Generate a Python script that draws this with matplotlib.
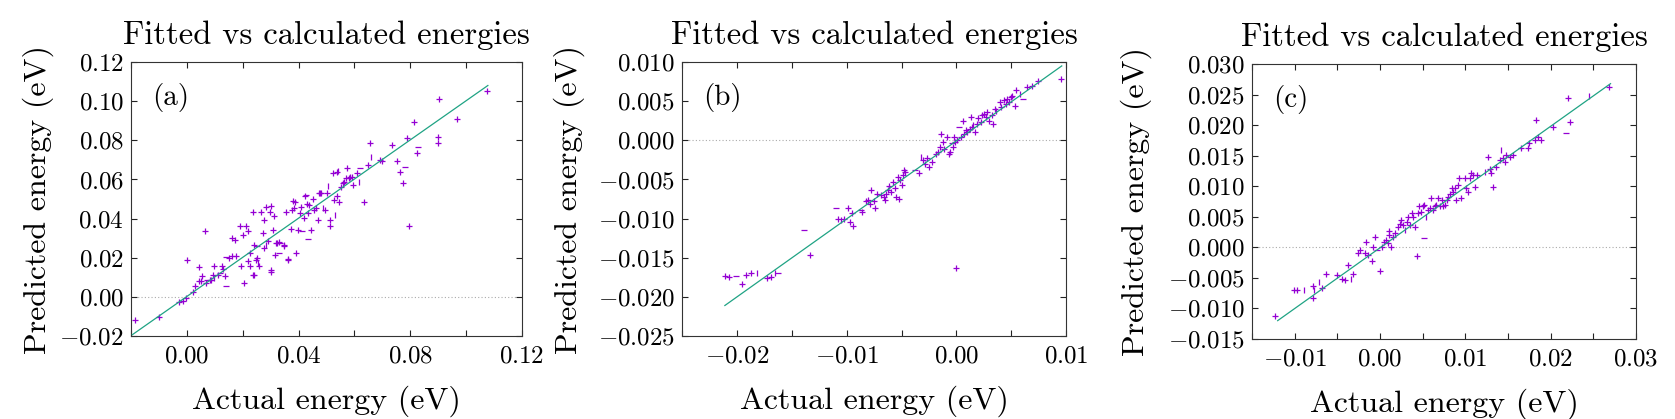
import matplotlib
matplotlib.use('Agg')
import matplotlib.pyplot as plt
from matplotlib.ticker import FixedLocator, FuncFormatter

plt.rcParams['font.family'] = 'cmr10'
plt.rcParams['mathtext.fontset'] = 'cm'
plt.rcParams['axes.unicode_minus'] = True

# ---- panel (a) ----
xs_a = [-0.0187, -0.0101, -0.0028, -0.0015, -0.0003, 0.0000, 0.0023, 0.0042, 0.0045, 0.0052,
        0.0055, 0.0064, 0.0068, 0.0074, 0.0087, 0.0099, 0.0112, 0.0097, 0.0118, 0.0131,
        0.0140, 0.0138, 0.0150, 0.0161, 0.0163, 0.0173, 0.0191, 0.0195, 0.0206, 0.0201,
        0.0218, 0.0220, 0.0227, 0.0236, 0.0239, 0.0242, 0.0246, 0.0252, 0.0255, 0.0259,
        0.0271, 0.0275, 0.0278, 0.0284, 0.0290, 0.0297, 0.0301, 0.0303, 0.0310, 0.0313,
        0.0316, 0.0322, 0.0329, 0.0331, 0.0349, 0.0354, 0.0364, 0.0373, 0.0377, 0.0382,
        0.0386, 0.0392, 0.0399, 0.0405, 0.0411, 0.0418, 0.0424, 0.0431, 0.0433, 0.0437,
        0.0443, 0.0433, 0.0456, 0.0462, 0.0469, 0.0475, 0.0482, 0.0488, 0.0494, 0.0501,
        0.0513, 0.0513, 0.0526, 0.0532, 0.0539, 0.0545, 0.0538, 0.0552, 0.0558, 0.0564,
        0.0571, 0.0581, 0.0590, 0.0596, 0.0609, 0.0615, 0.0634, 0.0647, 0.0660, 0.0656,
        0.0698, 0.0736, 0.0753, 0.0762, 0.0775, 0.0781, 0.0787, 0.0794, 0.0815, 0.0828,
        0.0823, 0.0899, 0.0899, 0.0902, 0.0969, 0.1076, 0.0029, 0.0093, 0.0125, 0.0176,
        0.0213, 0.0267, 0.0285, 0.0320, 0.0332, 0.0349, 0.0362, 0.0380, 0.0410, 0.0428,
        0.0452, 0.0476, 0.0506, 0.0524, 0.0542, 0.0572, 0.0584, 0.0619, 0.0690, 0.0142,
        0.0226, 0.0250, 0.0082, 0.0238, 0.0303]
ys_a = [-0.0119, -0.0102, -0.0027, -0.0022, -0.0008, 0.0190, 0.0024, 0.0080, 0.0153, 0.0080,
        0.0105, 0.0339, 0.0071, 0.0088, 0.0088, 0.0097, 0.0112, 0.0160, 0.0122, 0.0143,
        0.0058, 0.0105, 0.0199, 0.0207, 0.0300, 0.0292, 0.0360, 0.0156, 0.0071, 0.0317,
        0.0338, 0.0182, 0.0156, 0.0434, 0.0114, 0.0266, 0.0190, 0.0199, 0.0173, 0.0156,
        0.0326, 0.0394, 0.0249, 0.0266, 0.0283, 0.0434, 0.0462, 0.0126, 0.0343, 0.0414,
        0.0216, 0.0275, 0.0224, 0.0278, 0.0258, 0.0436, 0.0193, 0.0346, 0.0445, 0.0453,
        0.0487, 0.0224, 0.0343, 0.0428, 0.0339, 0.0402, 0.0513, 0.0475, 0.0428, 0.0470,
        0.0343, 0.0297, 0.0445, 0.0453, 0.0394, 0.0530, 0.0533, 0.0453, 0.0445, 0.0530,
        0.0394, 0.0363, 0.0496, 0.0419, 0.0513, 0.0487, 0.0640, 0.0563, 0.0580, 0.0589,
        0.0606, 0.0606, 0.0614, 0.0572, 0.0631, 0.0589, 0.0487, 0.0674, 0.0716, 0.0784,
        0.0694, 0.0776, 0.0696, 0.0640, 0.0584, 0.0665, 0.0810, 0.0360, 0.0891, 0.0767,
        0.0737, 0.0818, 0.0784, 0.1010, 0.0908, 0.1052, 0.0054, 0.0114, 0.0156, 0.0207,
        0.0362, 0.0436, 0.0461, 0.0274, 0.0277, 0.0265, 0.0189, 0.0491, 0.0461, 0.0520,
        0.0499, 0.0533, 0.0564, 0.0632, 0.0645, 0.0657, 0.0615, 0.0657, 0.0700, 0.0204,
        0.0223, 0.0258, 0.0087, 0.0113, 0.0136]
marks_a = ('+++++++++++++-+|++-+-+++++++++++++++++|++++|++++++++-+++++++++++-++++++-+++++|'
           '+++++|+++++++++++|++|++++++-+++-++++++++++'
           '++++-++++-++|+|++-+-+-+++')
fit_x_a = [-0.0195, 0.1078]
fit_y_a = [-0.0193, 0.1080]

# ---- panel (b) ----
xs_b = [-0.0211, -0.0207, -0.0201, -0.0195, -0.0192, -0.0187, -0.0182, -0.0173, -0.0169, -0.0165,
        -0.0163, -0.0139, -0.0133, -0.0110, -0.0108, -0.0105, -0.0102, -0.0099, -0.0097, -0.0094,
        -0.0095, -0.0087, -0.0086, -0.0082, -0.0081, -0.0079, -0.0078, -0.0075, -0.0074, -0.0072,
        -0.0069, -0.0066, -0.0065, -0.0064, -0.0062, -0.0061, -0.0060, -0.0058, -0.0056, -0.0055,
        -0.0053, -0.0051, -0.0050, -0.0049, -0.0048, -0.0047, -0.0052, -0.0038, -0.0034, -0.0032,
        -0.0030, -0.0029, -0.0027, -0.0025, -0.0022, -0.0019, -0.0017, -0.0015, -0.0014, -0.0012,
        -0.0011, -0.0009, -0.0007, -0.0006, -0.0004, -0.0003, -0.0002, -0.0001, 0.0000, 0.0001,
        0.0002, 0.0004, 0.0006, 0.0007, 0.0009, 0.0010, 0.0012, 0.0013, 0.0014, 0.0015,
        0.0017, 0.0019, 0.0020, 0.0022, 0.0023, 0.0025, 0.0027, 0.0028, 0.0030, 0.0032,
        0.0033, 0.0035, 0.0036, 0.0040, 0.0041, 0.0043, 0.0045, 0.0046, 0.0048, 0.0050,
        0.0051, 0.0053, 0.0054, 0.0058, 0.0061, 0.0064, 0.0069, 0.0074, 0.0095]
ys_b = [-0.0173, -0.0175, -0.0173, -0.0184, -0.0172, -0.0169, -0.0170, -0.0176, -0.0174, -0.0169,
        -0.0169, -0.0114, -0.0147, -0.0087, -0.0100, -0.0102, -0.0100, -0.0087, -0.0104, -0.0110,
        -0.0093, -0.0089, -0.0092, -0.0078, -0.0076, -0.0081, -0.0064, -0.0078, -0.0087, -0.0068,
        -0.0070, -0.0072, -0.0076, -0.0068, -0.0064, -0.0059, -0.0066, -0.0053, -0.0061, -0.0072,
        -0.0047, -0.0051, -0.0057, -0.0044, -0.0038, -0.0040, -0.0075, -0.0038, -0.0042, -0.0021,
        -0.0025, -0.0030, -0.0023, -0.0034, -0.0028, -0.0017, -0.0015, -0.0008, 0.0008, -0.0002,
        -0.0011, 0.0004, -0.0017, -0.0015, -0.0004, -0.0008, 0.0004, -0.0002, -0.0163, 0.0000,
        0.0017, 0.0004, 0.0025, 0.0008, 0.0013, 0.0011, 0.0015, 0.0030, 0.0017, 0.0019,
        0.0011, 0.0021, 0.0028, 0.0023, 0.0032, 0.0034, 0.0030, 0.0036, 0.0025, 0.0032,
        0.0021, 0.0040, 0.0038, 0.0049, 0.0042, 0.0051, 0.0047, 0.0053, 0.0049, 0.0055,
        0.0057, 0.0044, 0.0064, 0.0059, 0.0053, 0.0068, 0.0069, 0.0076, 0.0078]
marks_b = ('++-+++|++|--+-+|+++++-+++++++++++++++++++++++++-+|++++++++++++++-+++++-++++++++|'
           '++++++++++++|++++++++++|-+++++|')
fit_x_b = [-0.0211, 0.0096]
fit_y_b = [-0.0211, 0.0095]

# ---- panel (c) ----
xs_c = [-0.0123, -0.0101, -0.0097, -0.0089, -0.0079, -0.0079, -0.0077, -0.0071, -0.0068, -0.0063,
        -0.0051, -0.0045, -0.0041, -0.0038, -0.0034, -0.0032, -0.0026, -0.0024, -0.0018, -0.0016,
        -0.0014, -0.0010, -0.0008, -0.0006, -0.0004, 0.0000, 0.0002, 0.0004, 0.0007, 0.0009,
        0.0010, 0.0011, 0.0013, 0.0015, 0.0017, 0.0021, 0.0023, 0.0025, 0.0027, 0.0029,
        0.0031, 0.0033, 0.0035, 0.0037, 0.0039, 0.0041, 0.0043, 0.0045, 0.0046, 0.0048,
        0.0050, 0.0052, 0.0054, 0.0052, 0.0056, 0.0058, 0.0060, 0.0062, 0.0064, 0.0066,
        0.0068, 0.0070, 0.0072, 0.0074, 0.0076, 0.0078, 0.0080, 0.0082, 0.0084, 0.0086,
        0.0088, 0.0089, 0.0091, 0.0093, 0.0095, 0.0099, 0.0101, 0.0103, 0.0105, 0.0107,
        0.0109, 0.0111, 0.0113, 0.0123, 0.0127, 0.0129, 0.0130, 0.0132, 0.0136, 0.0140,
        0.0142, 0.0144, 0.0146, 0.0148, 0.0152, 0.0156, 0.0165, 0.0173, 0.0175, 0.0181,
        0.0183, 0.0185, 0.0189, 0.0203, 0.0218, 0.0222, 0.0220, 0.0245, 0.0268]
ys_c = [-0.0112, -0.0070, -0.0070, -0.0070, -0.0064, -0.0083, -0.0070, -0.0056, -0.0067, -0.0044,
        -0.0046, -0.0051, -0.0053, -0.0029, -0.0051, -0.0043, -0.0009, -0.0004, -0.0010, 0.0009,
        -0.0013, -0.0023, 0.0001, 0.0017, -0.0004, -0.0038, 0.0001, 0.0009, 0.0012, 0.0007,
        0.0026, 0.0020, 0.0001, 0.0017, 0.0023, 0.0034, 0.0039, 0.0045, 0.0037, 0.0028,
        0.0042, 0.0050, 0.0037, 0.0056, 0.0050, 0.0034, -0.0014, 0.0056, 0.0067, 0.0058,
        0.0067, 0.0069, 0.0050, 0.0015, 0.0061, 0.0064, 0.0080, 0.0061, 0.0067, 0.0069,
        0.0080, 0.0067, 0.0077, 0.0067, 0.0069, 0.0077, 0.0083, 0.0088, 0.0097, 0.0091,
        0.0097, 0.0077, 0.0102, 0.0113, 0.0080, 0.0113, 0.0097, 0.0091, 0.0113, 0.0121,
        0.0118, 0.0099, 0.0118, 0.0124, 0.0148, 0.0129, 0.0121, 0.0099, 0.0132, 0.0143,
        0.0159, 0.0146, 0.0140, 0.0151, 0.0148, 0.0151, 0.0162, 0.0162, 0.0171, 0.0176,
        0.0208, 0.0181, 0.0176, 0.0197, 0.0188, 0.0206, 0.0245, 0.0248, 0.0262]
marks_c = ('+++|++||++++++|+++++++++-++++++++++++++|++++++++++++|-++++++++++++++++++++++++++'
           '+++|++++++|+++++++++++++-++|++')
fit_x_c = [-0.0120, 0.0270]
fit_y_c = [-0.0120, 0.0268]

# axis limits and ticks
xlim_a, ylim_a = (-0.02, 0.12), (-0.02, 0.12)
xticks_a = [0.00, 0.04, 0.08, 0.12]
xminor_a = [-0.02, 0.02, 0.06, 0.10]
yticks_a = [-0.02, 0.00, 0.02, 0.04, 0.06, 0.08, 0.10, 0.12]
xlim_b, ylim_b = (-0.025, 0.01), (-0.025, 0.01)
xticks_b = [-0.02, -0.01, 0.00, 0.01]
xminor_b = [-0.025, -0.015, -0.005, 0.005]
yticks_b = [-0.025, -0.020, -0.015, -0.010, -0.005, 0.000, 0.005, 0.010]
xlim_c, ylim_c = (-0.015, 0.03), (-0.015, 0.03)
xticks_c = [-0.01, 0.00, 0.01, 0.02, 0.03]
xminor_c = [-0.015, -0.005, 0.005, 0.015, 0.025]
yticks_c = [-0.015, -0.010, -0.005, 0.000, 0.005, 0.010, 0.015, 0.020, 0.025, 0.030]

PURPLE = '#9400d3'
TEAL = '#1fa384'


def fmt(decimals):
    return FuncFormatter(lambda v, pos: '$%.*f$' % (decimals, v))


def draw_panel(ax, xs, ys, marks, fit_x, fit_y, xlim, ylim, xticks, xminor, yticks,
               xdec, ydec, tag, ylab_x):
    ax.axhline(0, color='#aaaaaa', lw=0.8, ls=(0, (1, 2)), zorder=1)
    marks = marks.ljust(len(xs), '+')
    for m, sym in (('+', '+'), ('-', '_'), ('|', '|')):
        px = [x for x, k in zip(xs, marks) if k == m]
        py = [y for y, k in zip(ys, marks) if k == m]
        ax.plot(px, py, ls='none', marker=sym, color=PURPLE, ms=4.8, mew=0.9, zorder=2)
    ax.plot(fit_x, fit_y, color=TEAL, lw=0.9, zorder=3)

    ax.set_xlim(*xlim)
    ax.set_ylim(*ylim)
    ax.xaxis.set_major_locator(FixedLocator(xticks))
    ax.xaxis.set_minor_locator(FixedLocator(xminor))
    ax.yaxis.set_major_locator(FixedLocator(yticks))
    ax.xaxis.set_major_formatter(fmt(xdec))
    ax.yaxis.set_major_formatter(fmt(ydec))
    ax.tick_params(which='both', direction='in', top=True, right=True,
                   length=4.5, width=0.8, color='#222222', labelsize=18)
    ax.tick_params(axis='x', pad=7)
    ax.tick_params(axis='y', pad=5)
    for sp in ax.spines.values():
        sp.set_linewidth(0.8)
        sp.set_color('#333333')

    ax.set_title('Fitted vs calculated energies', fontsize=23.5, pad=13)
    ax.set_xlabel('Actual energy (eV)', fontsize=23)
    ax.set_ylabel('Predicted energy (eV)', fontsize=23)
    ax.xaxis.set_label_coords(0.5, -0.18)
    ax.yaxis.set_label_coords(ylab_x, 0.5)
    ax.text(0.055, 0.87, tag, transform=ax.transAxes, fontsize=21, ha='left', va='center')


fig = plt.figure(figsize=(16.75, 4.19), dpi=100)
ax_a = fig.add_axes([0.0782, 0.198, 0.2334, 0.654])
ax_b = fig.add_axes([0.4072, 0.198, 0.2293, 0.654])
ax_c = fig.add_axes([0.7475, 0.191, 0.2293, 0.656])

draw_panel(ax_a, xs_a, ys_a, marks_a, fit_x_a, fit_y_a, xlim_a, ylim_a,
           xticks_a, xminor_a, yticks_a, 2, 2, '(a)', -0.197)
draw_panel(ax_b, xs_b, ys_b, marks_b, fit_x_b, fit_y_b, xlim_b, ylim_b,
           xticks_b, xminor_b, yticks_b, 2, 3, '(b)', -0.253)
draw_panel(ax_c, xs_c, ys_c, marks_c, fit_x_c, fit_y_c, xlim_c, ylim_c,
           xticks_c, xminor_c, yticks_c, 2, 3, '(c)', -0.26)

fig.savefig('out.png', dpi=100)
